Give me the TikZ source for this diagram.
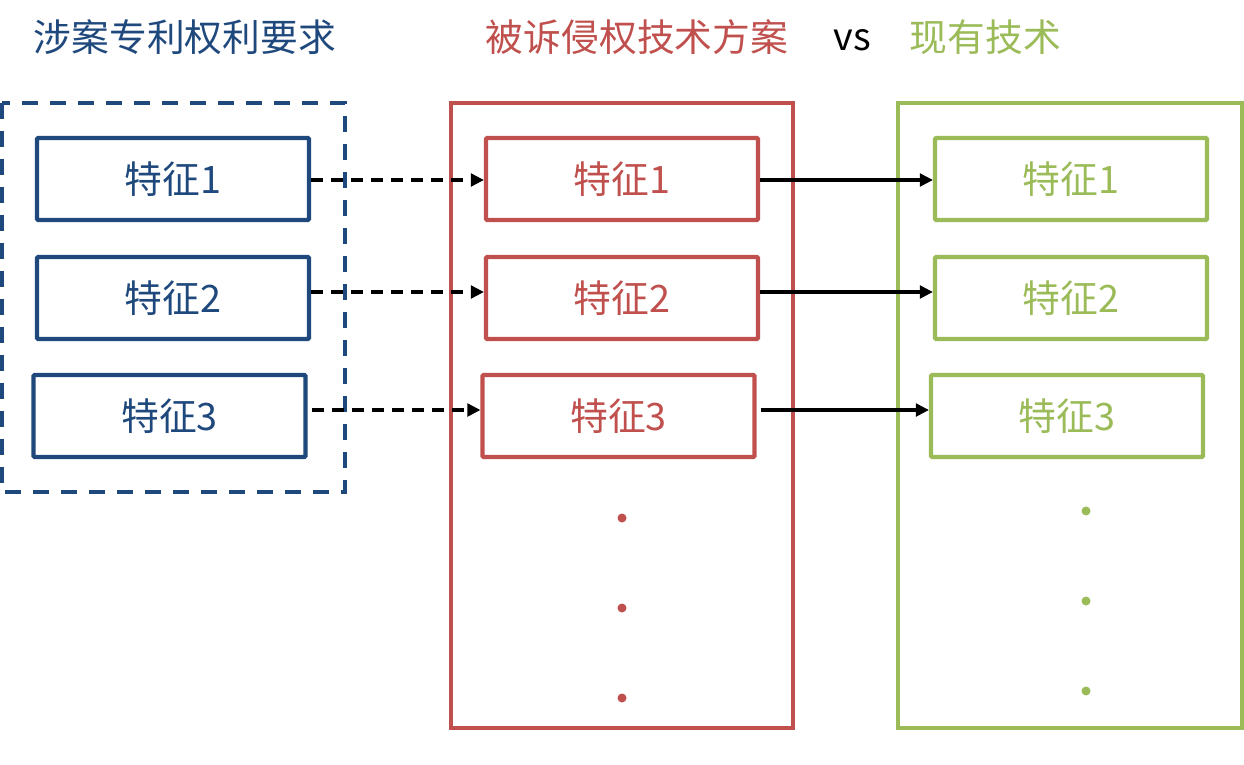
\documentclass[tikz,border=0pt]{standalone}
\usepackage{fontspec}
\setmainfont{Noto Sans CJK SC}
\usetikzlibrary{arrows.meta,positioning}
\definecolor{claimblue}{RGB}{31,73,125}
\definecolor{accusedred}{RGB}{192,80,77}
\definecolor{priorgreen}{RGB}{155,187,89}

\begin{document}
\begin{tikzpicture}[
    feature/.style={draw,line width=2.3pt,rounded corners=0.5pt,minimum width=5.44cm,minimum height=1.64cm,
      inner sep=0pt,font=\fontsize{21.5}{25}\selectfont},
    headline/.style={font=\fontsize{21.5}{25}\selectfont,inner sep=0pt},
    frame/.style={line width=2.3pt},
    pairing/.style={line width=2.1pt,-{Triangle[length=2.6mm,width=2.5mm]}}
  ]
        \useasboundingbox (0,0) rectangle (24.88,-15.3);
        % column headings
        \node[headline,text=claimblue] (claimtitle) at (3.7,-0.74) {涉案专利权利要求};
        \node[headline,text=accusedred] (accusedtitle) at (12.74,-0.74) {被诉侵权技术方案};
        \node[headline] (versus) at (17.04,-0.8) {vs};
        \node[headline,text=priorgreen] (priortitle) at (19.71,-0.74) {现有技术};
        % frames
        \draw[frame,claimblue,dash pattern=on 0.32cm off 0.24cm] (0.04,-2.06) rectangle (6.9,-9.84);
        \draw[frame,accusedred] (9.02,-2.06) rectangle (15.86,-14.56);
        \draw[frame,priorgreen] (17.96,-2.06) rectangle (24.84,-14.56);
        % features
        \node[feature,claimblue] (claim1) at (3.46,-3.58) {特征1};
        \node[feature,claimblue] (claim2) at (3.46,-5.96) {特征2};
        \node[feature,claimblue] (claim3) at (3.39,-8.32) {特征3};
        \node[feature,accusedred] (accused1) at (12.44,-3.58) {特征1};
        \node[feature,accusedred] (accused2) at (12.44,-5.96) {特征2};
        \node[feature,accusedred] (accused3) at (12.37,-8.32) {特征3};
        \node[feature,priorgreen] (prior1) at (21.42,-3.58) {特征1};
        \node[feature,priorgreen] (prior2) at (21.42,-5.96) {特征2};
        \node[feature,priorgreen] (prior3) at (21.34,-8.32) {特征3};
        % comparisons
        \draw[pairing,dash pattern=on 0.24cm off 0.16cm] ([yshift=-0.02cm]claim1.east) -- ([yshift=-0.02cm]accused1.west);
        \draw[pairing,dash pattern=on 0.24cm off 0.16cm] ([yshift=0.12cm]claim2.east) -- ([yshift=0.12cm]accused2.west);
        \draw[pairing,dash pattern=on 0.24cm off 0.16cm] ([xshift=0.08cm,yshift=0.12cm]claim3.east) -- ([yshift=0.12cm]accused3.west);
        \draw[pairing] ([yshift=-0.02cm]accused1.east) -- ([yshift=-0.02cm]prior1.west);
        \draw[pairing] ([yshift=0.12cm]accused2.east) -- ([yshift=0.12cm]prior2.west);
        \draw[pairing] ([xshift=0.08cm,yshift=0.12cm]accused3.east) -- ([yshift=0.12cm]prior3.west);
        % more features
        \fill[accusedred] (12.44,-10.36) circle (0.09cm) (12.44,-12.16) circle (0.09cm) (12.44,-13.96) circle (0.09cm);
        \fill[priorgreen] (21.72,-10.22) circle (0.09cm) (21.72,-12.02) circle (0.09cm) (21.72,-13.82) circle (0.09cm);
      \end{tikzpicture}
\end{document}
